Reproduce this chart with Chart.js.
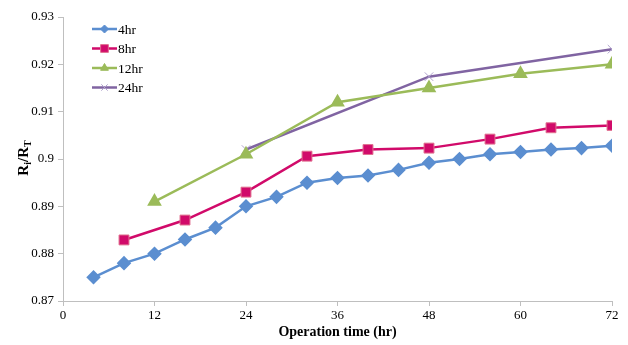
<!DOCTYPE html>
<html>
<head>
<meta charset="utf-8">
<script src="https://cdn.jsdelivr.net/npm/chart.js@4/dist/chart.umd.min.js"></script>
<style>
  body { margin: 0; background: #fff; }
  #wrap { width: 628px; height: 345px; }
</style>
</head>
<body>
<div id="wrap"><canvas id="plot" width="628" height="345"></canvas></div>
<script>
var seriesNames = ['4hr', '8hr', '12hr', '24hr'];
var hours4 = [4, 8, 12, 16, 20, 24, 28, 32, 36, 40, 44, 48, 52, 56, 60, 64, 68, 72];
var ratio4 = [0.875, 0.878, 0.880, 0.883, 0.8855, 0.890, 0.892, 0.895, 0.896, 0.8965, 0.8977, 0.8992, 0.900, 0.901, 0.9015, 0.902, 0.9023, 0.9028];
var hours8 = [8, 16, 24, 32, 40, 48, 56, 64, 72];
var ratio8 = [0.8829, 0.8871, 0.893, 0.9006, 0.902, 0.9023, 0.9042, 0.9066, 0.9071];
var hours12 = [12, 24, 36, 48, 60, 72];
var ratio12 = [0.891, 0.901, 0.912, 0.915, 0.918, 0.920];
var hours24 = [24, 48, 72];
var ratio24 = [0.902, 0.9174, 0.9232];

var serif = '"Liberation Serif", "Times New Roman", serif';

function pts(xs, ys) {
  return xs.map(function (x, i) { return { x: x, y: ys[i] }; });
}

var datasets = [
  { label: seriesNames[0], data: pts(hours4, ratio4), borderColor: '#5B8ED0', backgroundColor: '#5B8ED0',
    pointStyle: 'rectRot', pointRadius: 5.5, borderWidth: 2.5, legendRadius: 4 },
  { label: seriesNames[1], data: pts(hours8, ratio8), borderColor: '#D10A6A', backgroundColor: '#D10A6A',
    pointStyle: 'rect', pointRadius: 7, borderWidth: 2.5, pointBorderColor: '#E0708F', pointBorderWidth: 1,
    legendRadius: 5.5 },
  { label: seriesNames[2], data: pts(hours12, ratio12), borderColor: '#9BBB59', backgroundColor: '#9BBB59',
    pointStyle: 'triangle', pointRadius: 6, borderWidth: 2.5, legendRadius: 4.5 },
  { label: seriesNames[3], data: pts(hours24, ratio24), borderColor: '#8064A2', backgroundColor: '#8064A2',
    pointStyle: 'crossRot', pointRadius: 6, borderWidth: 2.5, pointBorderColor: '#B0A2CC', pointBorderWidth: 1,
    legendRadius: 4.5 }
];

// legend and y title with subscripts drawn by hand
var extras = {
  id: 'extras',
  afterDraw: function (chart) {
    var ctx = chart.ctx;
    ctx.save();
    chart.data.datasets.forEach(function (ds, i) {
      var y = 29 + i * 19.5;
      ctx.strokeStyle = ds.borderColor;
      ctx.lineWidth = 2.5;
      ctx.beginPath();
      ctx.moveTo(92, y);
      ctx.lineTo(117, y);
      ctx.stroke();
      ctx.fillStyle = ds.backgroundColor;
      ctx.strokeStyle = ds.pointBorderColor || ds.borderColor;
      ctx.lineWidth = 1;
      Chart.helpers.drawPoint(ctx, {
        pointStyle: ds.pointStyle, radius: ds.legendRadius, rotation: 0, borderWidth: 1
      }, 104.5, y);
      ctx.fillStyle = '#000';
      ctx.font = '13.5px ' + serif;
      ctx.textBaseline = 'middle';
      ctx.textAlign = 'left';
      ctx.fillText(ds.label, 118, y + 1);
    });
    ctx.translate(24, 158);
    ctx.rotate(-Math.PI / 2);
    ctx.fillStyle = '#000';
    ctx.textBaseline = 'alphabetic';
    ctx.textAlign = 'left';
    var parts = [['R', 15, 0], ['i', 10, 3], ['/R', 15, 0], ['T', 10, 3]];
    var total = 0;
    parts.forEach(function (p) { ctx.font = 'bold ' + p[1] + 'px ' + serif; total += ctx.measureText(p[0]).width; });
    var x = -total / 2;
    parts.forEach(function (p) {
      ctx.font = 'bold ' + p[1] + 'px ' + serif;
      ctx.fillText(p[0], x, 4 + p[2]);
      x += ctx.measureText(p[0]).width;
    });
    ctx.restore();
  }
};

new Chart(document.getElementById('plot'), {
  type: 'line',
  data: { datasets: datasets },
  options: {
    responsive: false,
    animation: false,
    layout: { padding: { top: 17, right: 16, left: 0, bottom: 0 } },
    plugins: { legend: { display: false }, tooltip: { enabled: false } },
    elements: { line: { tension: 0 } },
    scales: {
      x: {
        type: 'linear', min: 0, max: 72,
        ticks: { stepSize: 12, color: '#000', font: { family: serif, size: 13 }, padding: 2 },
        grid: { drawOnChartArea: false, drawTicks: true, tickLength: 5, color: '#BFBFBF' },
        border: { color: '#BFBFBF', width: 1 },
        title: { display: true, text: 'Operation time (hr)', color: '#000',
                 font: { family: serif, size: 14, weight: 'bold' }, padding: { top: 3 } },
        afterFit: function (s) { s.height = 44; }
      },
      y: {
        min: 0.87, max: 0.93,
        ticks: { stepSize: 0.01, color: '#000', font: { family: serif, size: 13 }, padding: 4,
                 callback: function (v) { return Number(v.toFixed(2)).toString(); } },
        grid: { drawOnChartArea: false, drawTicks: true, tickLength: 5, color: '#BFBFBF' },
        border: { color: '#BFBFBF', width: 1 },
        afterFit: function (s) { s.width = 63; }
      }
    }
  },
  plugins: [extras]
});
</script>
</body>
</html>
